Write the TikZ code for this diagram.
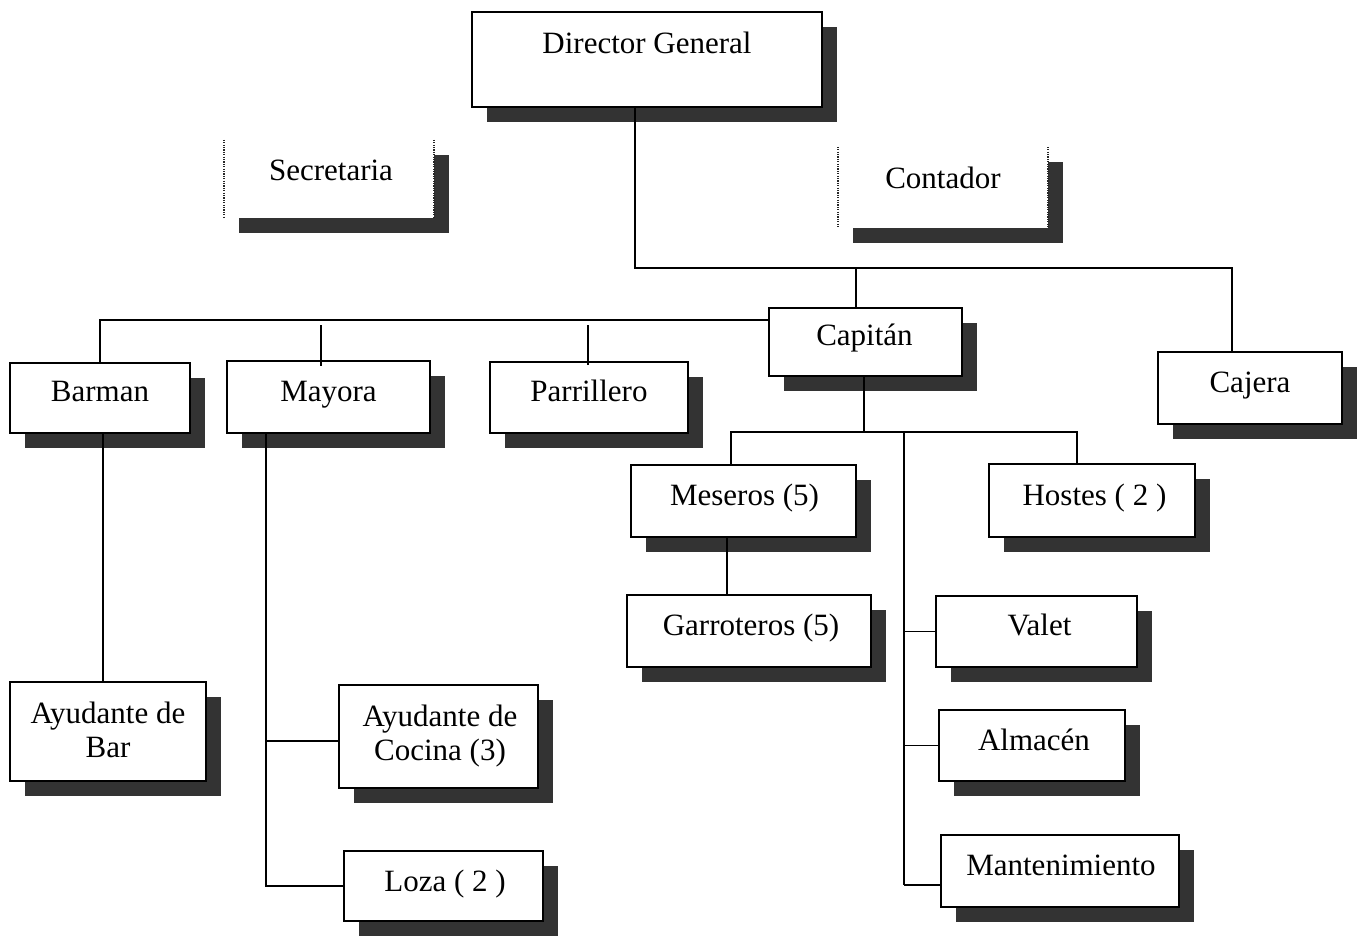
\documentclass[tikz,border=0pt]{standalone}
\usepackage{fontspec}
\setmainfont{Liberation Serif}
\usetikzlibrary{shadows,calc}
\begin{document}
\begin{tikzpicture}[x=1pt,y=-1pt,
  box/.style={draw=black, line width=1.5pt, fill=white, inner sep=0pt,
    drop shadow={shadow xshift=15pt, shadow yshift=-15pt, fill=black!80, opacity=1}},
  ghost/.style={draw=none, fill=white, inner sep=0pt,
    drop shadow={shadow xshift=15pt, shadow yshift=-15pt, fill=black!80, opacity=1}},
  lbl/.style={font=\fontsize{31}{34}\selectfont, inner sep=0pt, text height=21pt, text depth=7pt},
  lbltwo/.style={font=\fontsize{31}{34}\selectfont, align=center, inner sep=0pt},
  conn/.style={line width=1.6pt},
  dots/.style={dash pattern=on 1.2pt off 1.2pt, line width=1.6pt, black!85}]
\useasboundingbox[fill=white] (0,0) rectangle (1361,937);

% boxes
\node[box, minimum width=350pt, minimum height=95pt, label={[lbl,yshift=13.25pt]center:Director General}] (dir) at (647,59.5) {};
\node[ghost, minimum width=210pt, minimum height=78pt, label={[lbl,yshift=5.75pt,xshift=2pt]center:Secretaria}] (sec) at (329,179) {};
\node[ghost, minimum width=210pt, minimum height=81pt, label={[lbl,yshift=6.25pt]center:Contador}] (con) at (943,187.5) {};
\node[box, minimum width=193pt, minimum height=68pt, label={[lbl,yshift=3.75pt,xshift=-1pt]center:Capitán}] (cap) at (865.5,342) {};
\node[box, minimum width=180pt, minimum height=70pt, label={[lbl,yshift=3.75pt]center:Barman}] (bar) at (100,398) {};
\node[box, minimum width=203pt, minimum height=72pt, label={[lbl,yshift=2.75pt]center:Mayora}] (may) at (328.5,397) {};
\node[box, minimum width=198pt, minimum height=71pt, label={[lbl,yshift=3.25pt]center:Parrillero}] (par) at (589,397.5) {};
\node[box, minimum width=184pt, minimum height=72pt, label={[lbl,yshift=2.75pt]center:Cajera}] (caj) at (1250,388) {};
\node[box, minimum width=225pt, minimum height=72pt, label={[lbl,yshift=2.75pt,xshift=1pt]center:Meseros (5)}] (mes) at (743.5,501) {};
\node[box, minimum width=206pt, minimum height=73pt, label={[lbl,yshift=2.25pt,xshift=2.5pt]center:Hostes ( 2 )}] (hos) at (1092,500.5) {};
\node[box, minimum width=244pt, minimum height=72pt, label={[lbl,yshift=2.75pt,xshift=2pt]center:Garroteros (5)}] (gar) at (749,631) {};
\node[box, minimum width=201pt, minimum height=71pt, label={[lbl,yshift=3.25pt,xshift=3pt]center:Valet}] (val) at (1036.5,631.5) {};
\node[box, minimum width=186pt, minimum height=71pt, label={[lbl,yshift=2.25pt,xshift=2pt]center:Almacén}] (alm) at (1032,745.5) {};
\node[box, minimum width=238pt, minimum height=72pt, label={[lbl,yshift=2.75pt,xshift=1pt]center:Mantenimiento}] (man) at (1060,871) {};
\node[box, minimum width=196pt, minimum height=99pt, label={[lbltwo,yshift=2pt]center:Ayudante de\\Bar}] (ayb) at (108,731.5) {};
\node[box, minimum width=199pt, minimum height=103pt, label={[lbltwo,yshift=0.5pt,xshift=1.5pt]center:Ayudante de\\Cocina (3)}] (ayc) at (438.5,736.5) {};
\node[box, minimum width=199pt, minimum height=70pt, label={[lbl,yshift=1.75pt,xshift=1.5pt]center:Loza ( 2 )}] (loz) at (443.5,886) {};

% dotted sides of the open boxes
\draw[dots] (sec.north west) -- (sec.south west);
\draw[dots] (sec.north east) -- (sec.south east);
\draw[dots] (con.north west) -- (con.south west);
\draw[dots] (con.north east) -- (con.south east);

% hub coordinates
\coordinate (hA) at (635,268);
\coordinate (hA2) at (1232,268);
\coordinate (hB) at (856,268);
\coordinate (hC) at (100,320);
\coordinate (sM) at (321,325);
\coordinate (sP) at (588,325);
\coordinate (hD) at (864,432);
\coordinate (hE) at (731,432);
\coordinate (hF) at (1077,432);
\coordinate (tk) at (904,432);
\coordinate (tkE) at (904,885);
\coordinate (gx) at (727,0);
\coordinate (bx) at (103,0);
\coordinate (mx) at (266,0);
\coordinate (mB) at (266,741);

% connectors
\draw[conn] (dir.south -| hA) -- (hA) -- (hA2) -- (hA2 |- caj.north);
\draw[conn] (hB) -- (hB |- cap.north);
\draw[conn] (bar.north) -- (hC) -- (hC -| cap.west);
\draw[conn] (sM) -- ($(sM |- may.north)+(0,6)$);
\draw[conn] (sP) -- ($(sP |- par.north)+(0,4)$);
\draw[conn] (cap.south -| hD) -- (hD);
\draw[conn] (hE |- mes.north) -- (hE) -- (hF) -- (hF |- hos.north);
\draw[conn] (tk) -- (tkE);
\draw[conn] (tkE) -- (tkE -| man.west);
\draw[conn] (val.west) -- (val.west -| tk);
\draw[conn] (alm.west) -- (alm.west -| tk);
\draw[conn] (mes.south -| gx) -- (gar.north -| gx);
\draw[conn] (bar.south -| bx) -- (ayb.north -| bx);
\draw[conn] (may.south -| mx) -- (mx |- loz.west) -- (loz.west);
\draw[conn] (mB) -- (mB -| ayc.west);
\end{tikzpicture}
\end{document}
